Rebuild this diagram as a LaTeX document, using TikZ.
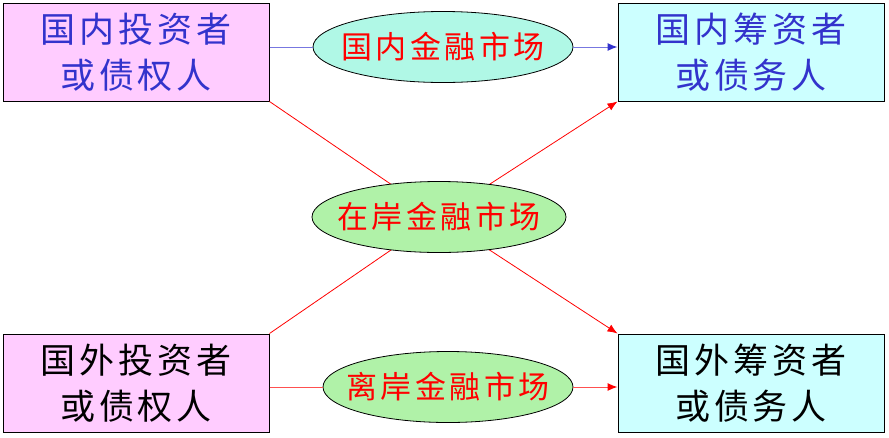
\documentclass[tikz,border=0pt]{standalone}
\usepackage{fontspec}
\newfontfamily\cjk[LetterSpace=11]{Noto Sans CJK SC}
\usetikzlibrary{arrows.meta,shapes.geometric}
\definecolor{pinkbg}{HTML}{FFCCFF}
\definecolor{cyanbg}{HTML}{CCFFFF}
\definecolor{mintbg}{HTML}{B0F8E6}
\definecolor{greenbg}{HTML}{B0F2A8}
\definecolor{bluetext}{HTML}{3333CC}
\definecolor{blueline}{HTML}{7777E0}
\definecolor{redline}{HTML}{FF5050}
\tikzset{
  partybox/.style={draw=black, line width=1pt, minimum width=266pt, minimum height=98pt,
    align=center, inner sep=0pt, font=\cjk\fontsize{35}{46}\selectfont},
  market/.style={ellipse, draw=black, line width=0.8pt, minimum width=254pt, minimum height=71pt,
    inner xsep=-14pt, inner ysep=0pt, text=red, font=\cjk\fontsize{31}{36}\selectfont},
  flow/.style={line width=1pt, -{Latex[length=10pt,width=8pt]}}
}
\begin{document}
\begin{tikzpicture}[x=1pt, y=-1pt, >=Stealth]
  \useasboundingbox (0,0) rectangle (889,437);
  % Boxes
  \node[partybox, fill=pinkbg, text=bluetext] (dinv) at (136,52) {国内投资者\\或债权人};
  \node[partybox, fill=cyanbg, text=bluetext] (draise) at (751,52) {国内筹资者\\或债务人};
  \node[partybox, fill=pinkbg] (finv) at (136,383) {国外投资者\\或债权人};
  \node[partybox, fill=cyanbg] (fraise) at (751,383) {国外筹资者\\或债务人};

  % Diagonals
  \draw[red, line width=0.8pt] (dinv.south east) -- (439,217);
  \draw[red, line width=0.8pt] (finv.north east) -- (439,217);
  \draw[red, flow, line width=0.8pt] (439,217) -- (fraise.north west);
  \draw[red, flow, line width=0.8pt] (439,217) -- (draise.south west);

  % Markets
  \node[market, fill=mintbg, minimum width=260pt] (domestic) at (443,47) {国内金融市场};
  \node[market, fill=greenbg] (onshore) at (439,217) {在岸金融市场};
  \node[market, fill=greenbg, minimum width=250pt] (offshore) at (448,387) {离岸金融市场};

  % Horizontal flows
  \draw[blueline, line width=1pt] (dinv.east |- domestic) -- (domestic);
  \draw[blueline, flow, arrows={-{Latex[length=10pt,width=8pt,color=bluetext]}}] (domestic) -- (draise.west |- domestic);
  \draw[redline, line width=1pt] (finv.east |- offshore) -- (offshore);
  \draw[redline, flow, arrows={-{Latex[length=10pt,width=8pt,color=red]}}] (offshore) -- (fraise.west |- offshore);
\end{tikzpicture}
\end{document}
